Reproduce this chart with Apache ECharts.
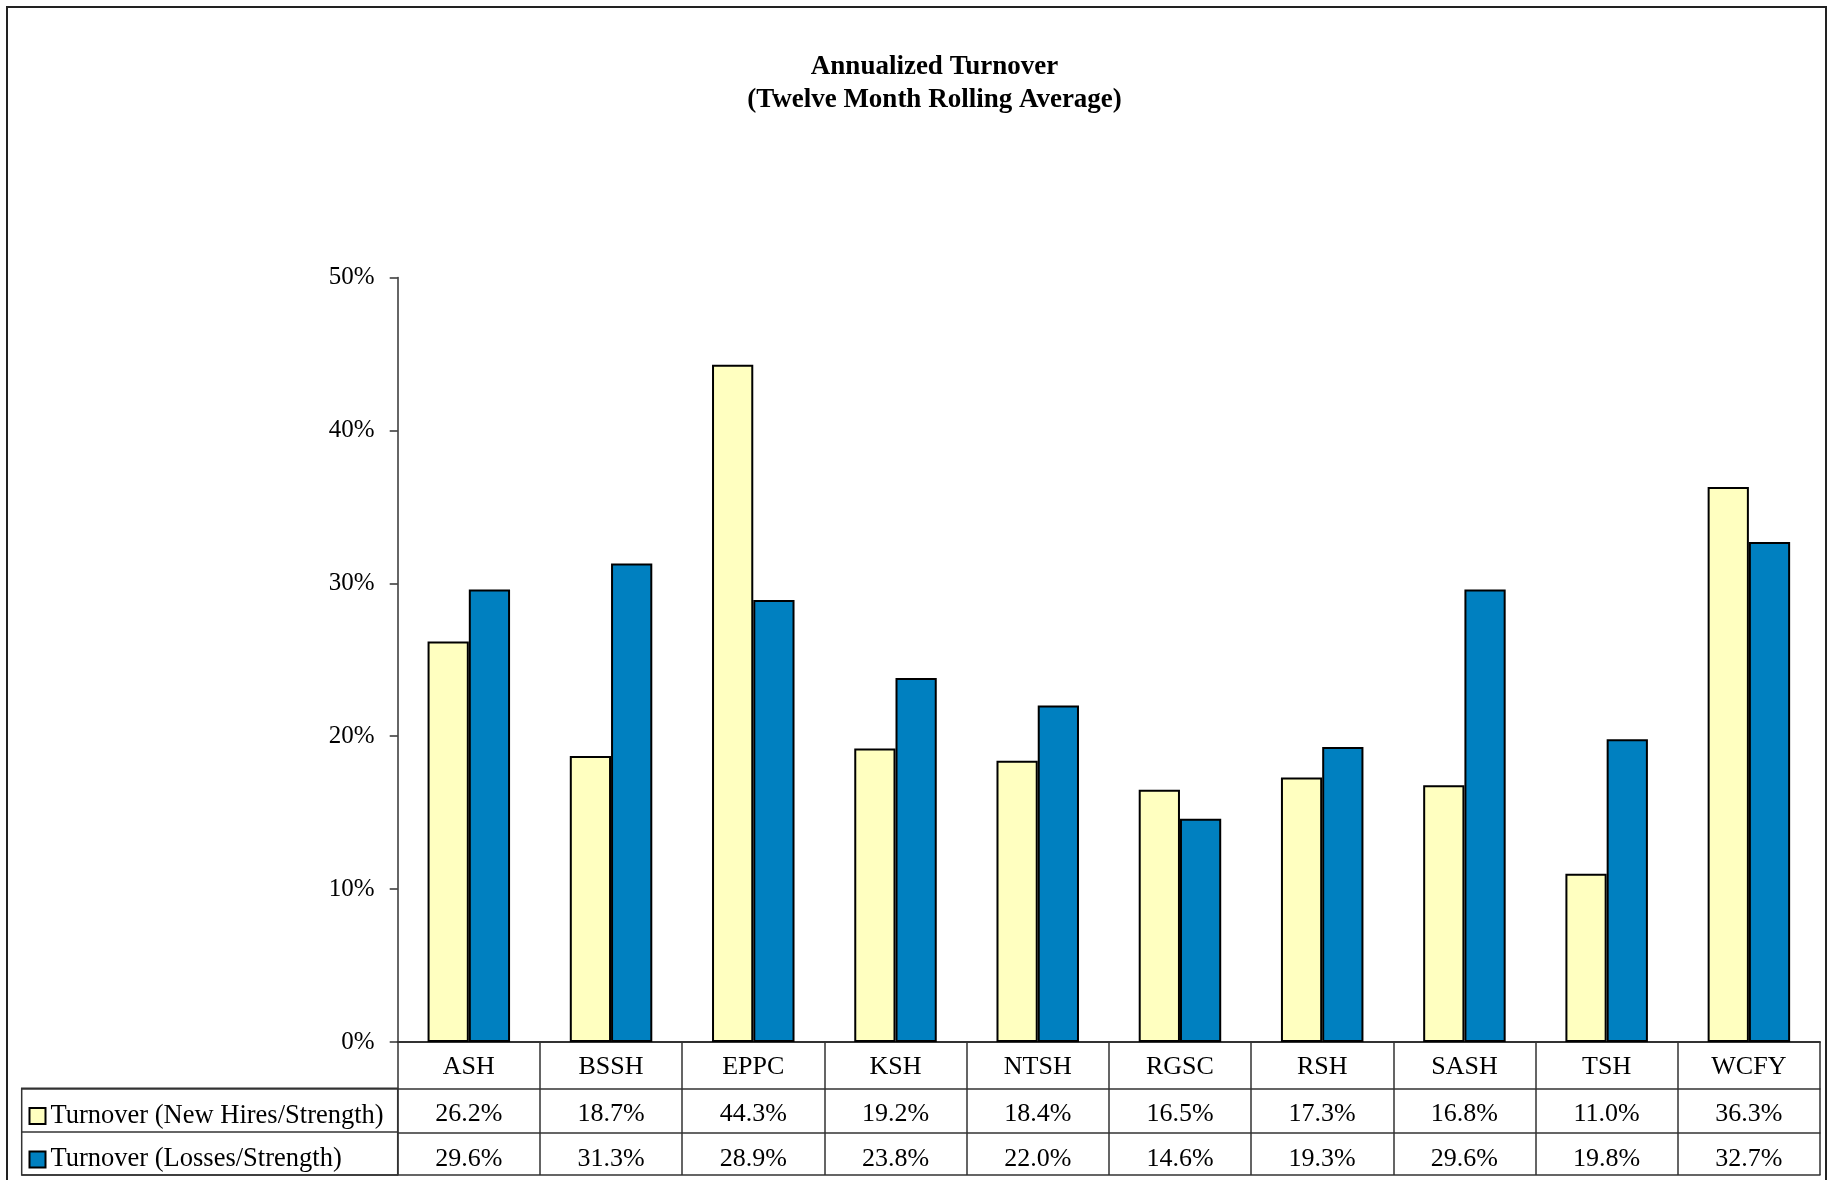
<!DOCTYPE html>
<html><head><meta charset="utf-8">
<script src="https://cdn.jsdelivr.net/npm/echarts@6/dist/echarts.min.js"></script>
<style>html,body{margin:0;padding:0;background:#fff}#c{width:1829px;height:1180px}</style>
</head><body><div id="c"></div>
<script>
const categories = ['ASH','BSSH','EPPC','KSH','NTSH','RGSC','RSH','SASH','TSH','WCFY'];
const newHires = [26.2,18.7,44.3,19.2,18.4,16.5,17.3,16.8,11.0,36.3];
const losses = [29.6,31.3,28.9,23.8,22.0,14.6,19.3,29.6,19.8,32.7];
const seriesNames = ['Turnover (New Hires/Strength)','Turnover (Losses/Strength)'];
const yTicks = [0,10,20,30,40,50];

const FONT = 'Liberation Serif';
const LINE = '#333';
const fmt = v => v.toFixed(1) + '%';
const chart = echarts.init(document.getElementById('c'), null, {renderer:'canvas'});

function tableAxis(offset, values, tickLen, showLabel, lineWidth, margin) {
  return {
    type:'category', gridIndex:0, position:'bottom', offset:offset,
    data: categories,
    axisLine:{show:true, lineStyle:{color:LINE, width:lineWidth}},
    axisTick:{show: tickLen>0, length: tickLen, interval:0, lineStyle:{color:LINE, width:1.5}},
    axisLabel:{show:showLabel, interval:0, margin:margin, fontFamily:FONT, fontSize:26, color:'#000',
      formatter: values ? function(v,i){ return fmt(values[i]); } : '{value}'},
    splitLine:{show:false}
  };
}
function legendRow(name, top) {
  return {
    data:[name], orient:'horizontal', left:28.5, top:top, padding:0,
    itemWidth:16, itemHeight:16, selectedMode:false, icon:'rect',
    textStyle:{fontFamily:FONT, fontSize:26.5, color:'#000', lineHeight:25}
  };
}

const option = {
  animation:false,
  backgroundColor:'#fff',
  graphic:[{type:'rect', shape:{x:7,y:7,width:1819,height:1200}, style:{fill:'none', stroke:'#222', lineWidth:2}, silent:true}],
  title:{
    text:'Annualized Turnover\n(Twelve Month Rolling Average)',
    left:929.5, top:46, textAlign:'center',
    textStyle:{fontFamily:FONT, fontSize:27, fontWeight:'bold', color:'#000', lineHeight:32.5}
  },
  legend:[ legendRow(seriesNames[0], 1102.5), legendRow(seriesNames[1], 1146) ],
  grid:[
    {left:397.7, right:9, top:277.5, bottom:138},
    {left:21.7, top:1088.3, width:376, height:86.7, show:true, borderColor:LINE, borderWidth:1.5}
  ],
  xAxis:[
    tableAxis(0, null, 46.3, true, 2, 12),
    tableAxis(46.3, newHires, 44, true, 1.5, 13),
    tableAxis(90.3, losses, 42.7, true, 1.5, 14),
    tableAxis(133, null, 0, false, 1.5, 10),
    {type:'value', gridIndex:1, show:false}
  ],
  yAxis:[
    {type:'value', gridIndex:0, min:yTicks[0], max:yTicks[yTicks.length-1], interval:yTicks[1]-yTicks[0],
      axisLine:{show:true, lineStyle:{color:LINE, width:1.5}},
      axisTick:{show:true, length:8, lineStyle:{color:LINE, width:1.5}},
      axisLabel:{margin:23, fontFamily:FONT, fontSize:25, color:'#000', formatter:'{value}%'},
      splitLine:{show:false}},
    {type:'category', gridIndex:1, data:['r1','r2'],
      axisLine:{show:false}, axisTick:{show:false}, axisLabel:{show:false},
      splitLine:{show:true, interval:0, lineStyle:{color:LINE, width:1.5}}}
  ],
  series:[
    {name:seriesNames[0], type:'bar', xAxisIndex:0, yAxisIndex:0, data:newHires,
      barGap:'0%', barCategoryGap:'42%',
      itemStyle:{color:'#FFFFC0', borderColor:'#000', borderWidth:2}},
    {name:seriesNames[1], type:'bar', xAxisIndex:0, yAxisIndex:0, data:losses,
      barGap:'0%', barCategoryGap:'42%',
      itemStyle:{color:'#0080C0', borderColor:'#000', borderWidth:2}}
  ]
};
chart.setOption(option);
</script></body></html>
